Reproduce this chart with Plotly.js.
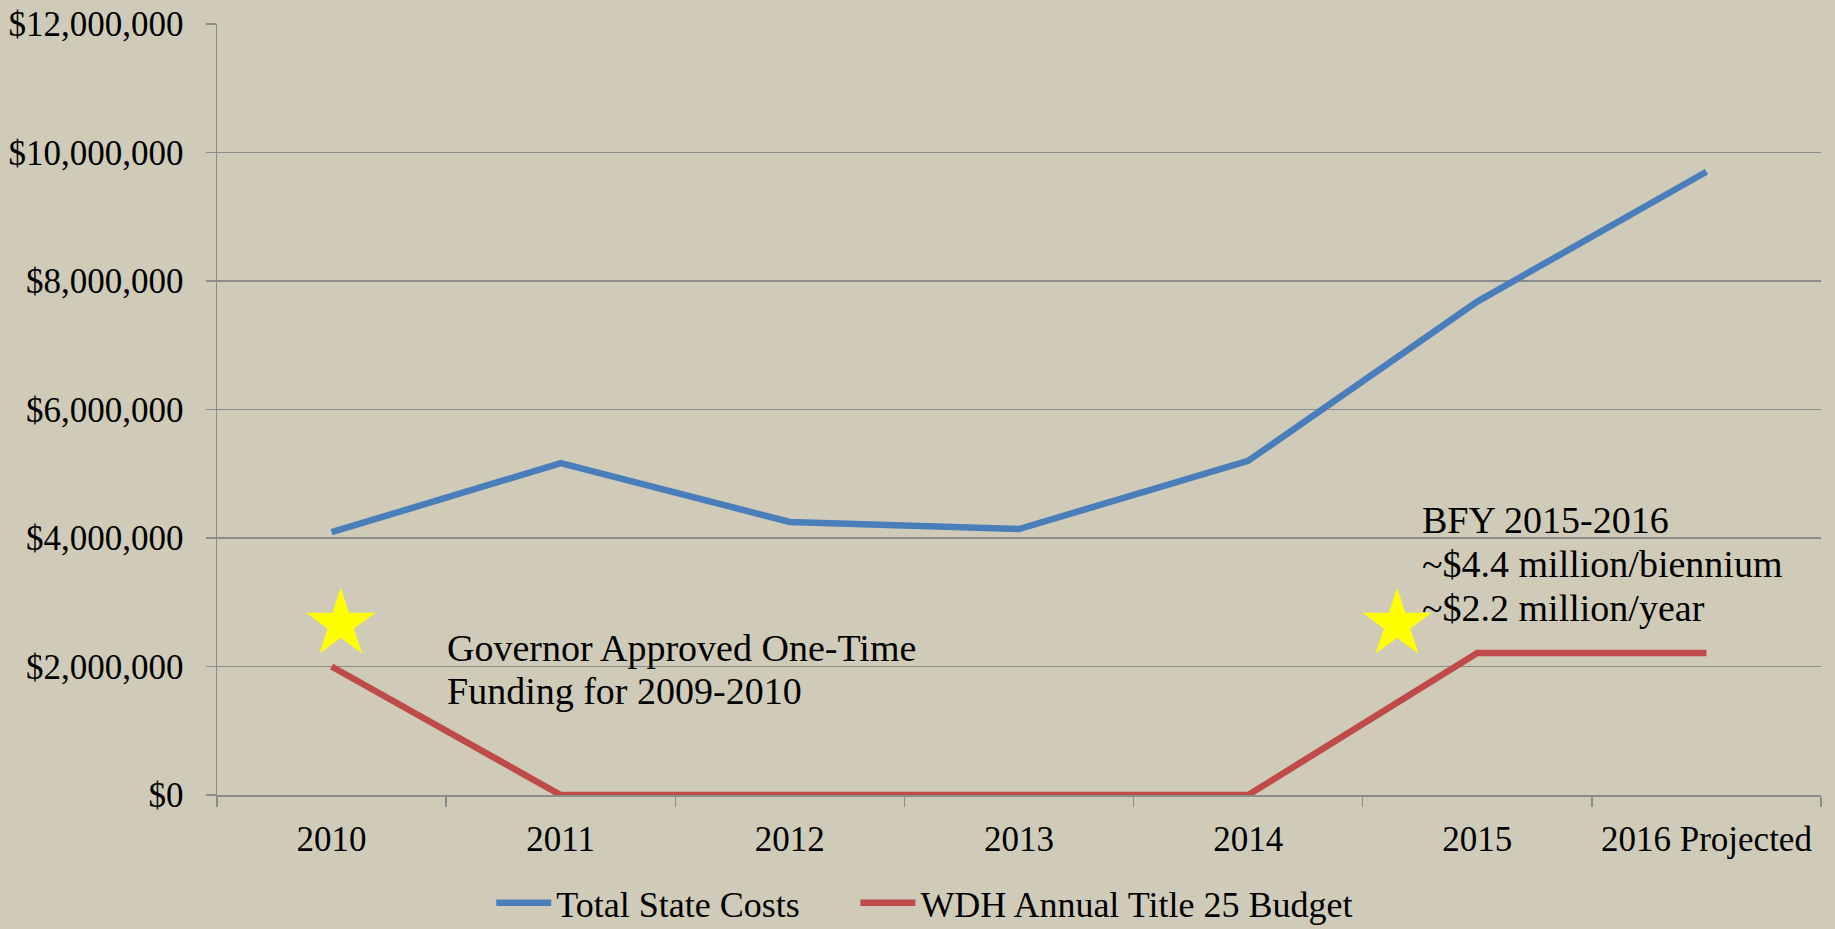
<!DOCTYPE html>
<html>
<head>
<meta charset="utf-8">
<script src="https://cdn.plot.ly/plotly-3.0.1.min.js"></script>
<style>
  html, body { margin: 0; padding: 0; background: #D0CBB9; }
  #chart { width: 1835px; height: 929px; }
</style>
</head>
<body>
<div id="chart"></div>
<script>
// ---- data ----
var years = ["2010", "2011", "2012", "2013", "2014", "2015", "2016 Projected"];
var totalStateCosts = [4090000, 5165000, 4250000, 4140000, 5200000, 7680000, 9700000];
var wdhTitle25Budget = [2000000, 0, 0, 0, 0, 2210000, 2210000];
var seriesNames = ["Total State Costs", "WDH Annual Title 25 Budget"];
// star callouts (position along the category index axis, value)
var starX = [0.04, 4.65];
var starY = [2660000, 2660000];
var noteGovernorLines = ["Governor Approved One-Time", "Funding for 2009-2010"];
var noteBFYLines = ["BFY 2015-2016", "~$4.4 million/biennium", "~$2.2 million/year"];

var bg = "#D0CBB9";
var gridGray = "#8C8C8C";
var fontFam = "'Liberation Serif', 'Times New Roman', serif";

var traces = [
  {
    type: "scatter", mode: "lines", name: seriesNames[0], legend: "legend",
    x: years, y: totalStateCosts,
    line: { color: "#4A7EBB", width: 6.5 }
  },
  {
    type: "scatter", mode: "lines", name: seriesNames[1], legend: "legend2",
    x: years, y: wdhTitle25Budget,
    line: { color: "#BE4B48", width: 6.5 }
  },
  {
    type: "scatter", mode: "markers", showlegend: false, hoverinfo: "skip",
    x: starX, y: starY, xaxis: "x2",
    marker: { symbol: "star", size: 52, color: "#FFFF00", line: { width: 0 } }
  }
];

// text notes: one annotation per line so line spacing matches
var annotations = [];
var govY = [2290000, 1620000];
noteGovernorLines.forEach(function (t, i) {
  annotations.push({
    xref: "paper", yref: "y", x: 0.142, y: govY[i],
    xanchor: "left", yanchor: "middle", align: "left",
    text: t, showarrow: false,
    font: { family: fontFam, size: 38, color: "#000" }
  });
});
var bfyY = [4280000, 3595000, 2910000];
noteBFYLines.forEach(function (t, i) {
  annotations.push({
    xref: "paper", yref: "y", x: 0.75, y: bfyY[i],
    xanchor: "left", yanchor: "middle", align: "left",
    text: t, showarrow: false,
    font: { family: fontFam, size: 38, color: "#000" }
  });
});

var legendBase = {
  orientation: "h", xanchor: "left", y: -0.14, yanchor: "middle",
  font: { family: fontFam, size: 36, color: "#000" },
  bgcolor: "rgba(0,0,0,0)", itemwidth: 55
};

var layout = {
  width: 1835, height: 929,
  paper_bgcolor: bg, plot_bgcolor: bg,
  font: { family: fontFam, color: "#000000", size: 35 },
  margin: { l: 217, r: 14, t: 24, b: 134, autoexpand: false },
  showlegend: true,
  legend: Object.assign({}, legendBase, { x: 0.171 }),
  legend2: Object.assign({}, legendBase, { x: 0.398 }),
  xaxis: {
    type: "category", range: [-0.5, 6.5],
    showline: true, linecolor: gridGray, linewidth: 1.5,
    ticks: "outside", tickson: "boundaries", ticklen: 10, tickcolor: gridGray, tickwidth: 1.5,
    showgrid: false, zeroline: false,
    tickfont: { family: fontFam, size: 35, color: "#000" },
    ticklabelstandoff: 12
  },
  xaxis2: {
    overlaying: "x", range: [-0.5, 6.5], visible: false, type: "linear"
  },
  yaxis: {
    range: [0, 12000000], dtick: 2000000, tick0: 0,
    tickprefix: "$", tickformat: ",d",
    showline: true, linecolor: gridGray, linewidth: 1.5,
    ticks: "outside", ticklen: 10, tickcolor: gridGray, tickwidth: 1.5,
    showgrid: true, gridcolor: gridGray, gridwidth: 1.5, zeroline: false,
    tickfont: { family: fontFam, size: 35, color: "#000" },
    ticklabelstandoff: 15
  },
  annotations: annotations
};

Plotly.newPlot("chart", traces, layout, { displayModeBar: false, staticPlot: true });
</script>
</body>
</html>
